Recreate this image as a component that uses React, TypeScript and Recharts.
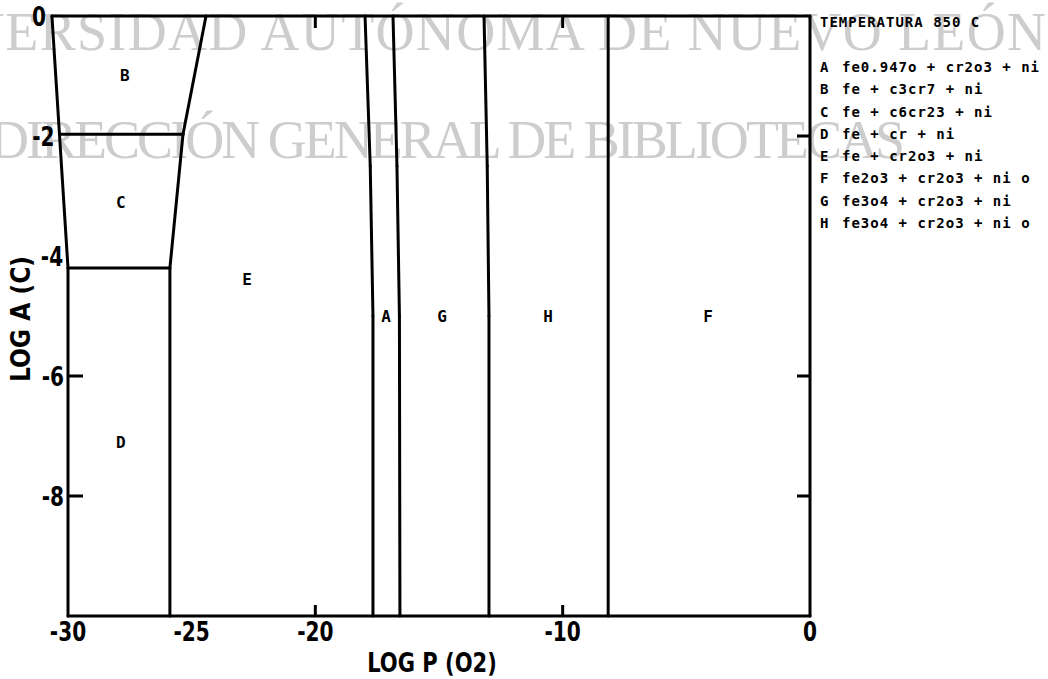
import React from "react";
import { ComposedChart, XAxis, YAxis, ReferenceLine, Scatter, Legend } from "recharts";

// axis ticks
const xTicks = [-30, -25, -20, -10, 0];
const yTicks = [0, -2, -4, -6, -8];
const markedX = [-20, -10];
const markedLeftY = [-6, -8];
const markedRightY = [-2, -6, -8];

// phase boundaries, [log P(O2), log a(C)]
type Pt = [number, number];
const frameLine: Pt[] = [[-30.65, 0], [0, 0], [0, -10], [-30, -10], [-30, -4.2], [-30.65, 0]];
const bcLine: Pt[] = [[-30.34, -1.97], [-25.35, -1.97]];
const cdLine: Pt[] = [[-30, -4.2], [-25.88, -4.2]];
const beLine: Pt[] = [[-24.42, 0], [-25.35, -1.97], [-25.88, -4.2], [-25.88, -10]];
const eaLine: Pt[] = [[-17.99, 0], [-17.78, -2.5], [-17.67, -5], [-17.67, -10]];
const agLine: Pt[] = [[-16.86, 0], [-16.7, -2.5], [-16.6, -5], [-16.58, -10]];
const ghLine: Pt[] = [[-13.18, 0], [-13.05, -2.5], [-12.98, -5], [-12.98, -10]];
const hfLine: Pt[] = [[-8.16, 0], [-8.16, -10]];
const boundaries = [frameLine, bcLine, cdLine, beLine, eaLine, agLine, ghLine, hfLine];

// region labels
const regionNames = ["B", "C", "D", "E", "A", "G", "H", "F"];
const regionX = [-27.7, -27.86, -27.86, -22.76, -17.14, -14.88, -10.59, -4.12];
const regionY = [-0.98, -3.1, -7.1, -4.38, -5, -5, -5, -5];

// legend
const legendTitle = "TEMPERATURA 850 C";
const phaseKeys = ["A", "B", "C", "D", "E", "F", "G", "H"];
const phaseNames = [
  "fe0.947o + cr2o3 + ni",
  "fe + c3cr7 + ni",
  "fe + c6cr23 + ni",
  "fe + cr + ni",
  "fe + cr2o3 + ni",
  "fe2o3 + cr2o3 + ni o",
  "fe3o4 + cr2o3 + ni",
  "fe3o4 + cr2o3 + ni o",
];

const segments = boundaries.flatMap((pts) =>
  pts.slice(1).map((p, i) => [pts[i], p] as [Pt, Pt])
);
const regionData = regionNames.map((name, i) => ({ x: regionX[i], y: regionY[i], name }));

const narrow = "'DejaVu Sans Condensed', 'DejaVu Sans', sans-serif";
const mono = "'DejaVu Sans Mono', monospace";
const tickFont = { fontFamily: narrow, fontWeight: 700, fontSize: 26, fill: "#000" };

// squeezed text, the plotter font is tall and narrow
const Narrow = ({ x, y, anchor, sx = 0.86, rotate = 0, children }: any) => (
  <text
    transform={`translate(${x} ${y}) rotate(${rotate}) scale(${sx} 1)`}
    textAnchor={anchor}
    style={tickFont}
  >
    {children}
  </text>
);

const BottomTick = (p: any) => {
  const v = p.payload.value;
  return (
    <g>
      {markedX.includes(v) && (
        <line x1={p.x} x2={p.x} y1={p.y} y2={p.y - 11} stroke="#000" strokeWidth={3} />
      )}
      <Narrow x={p.x} y={p.y + 25} anchor="middle">{v}</Narrow>
    </g>
  );
};

const TopTick = (p: any) => (
  <line x1={p.x} x2={p.x} y1={p.y} y2={p.y + 12} stroke="#000" strokeWidth={3} />
);

const LeftTick = (p: any) => {
  const v = p.payload.value;
  // labels above -4.2 follow the slanted left edge of the frame
  const slant = v > -4.2 ? ((v + 4.2) / 4.2) * 18 : 0;
  return (
    <g>
      {markedLeftY.includes(v) && (
        <line x1={p.x} x2={p.x + 15} y1={p.y} y2={p.y} stroke="#000" strokeWidth={3} />
      )}
      <Narrow x={p.x - 4 - slant} y={p.y + 10} anchor="end">{v}</Narrow>
    </g>
  );
};

const RightTick = (p: any) =>
  markedRightY.includes(p.payload.value) ? (
    <line x1={p.x} x2={p.x - 13} y1={p.y} y2={p.y} stroke="#000" strokeWidth={3} />
  ) : (
    <g />
  );

const renderLegend = () => (
  <div
    style={{
      fontFamily: mono,
      fontWeight: 700,
      fontSize: 14,
      letterSpacing: 1,
      lineHeight: "22.3px",
      color: "#000",
      textAlign: "left",
      whiteSpace: "pre",
    }}
  >
    <div>{legendTitle}</div>
    <div style={{ marginTop: 22.7 }}>
      {phaseKeys.map((k, i) => (
        <div key={k} style={{ display: "flex" }}>
          <span style={{ width: 22 }}>{k}</span>
          <span>{phaseNames[i]}</span>
        </div>
      ))}
    </div>
  </div>
);

export default function App() {
  return (
    <div style={{ position: "absolute", left: 0, top: 0, width: 1048, height: 679, background: "#fff" }}>
      <svg width={1048} height={679} style={{ position: "absolute", left: 0, top: 0 }}>
        <text
          x={-135}
          y={50}
          textLength={1181}
          lengthAdjust="spacing"
          style={{ fontFamily: "'Liberation Serif', serif", fontSize: 54, fill: "#cdcdcd" }}
        >
          UNIVERSIDAD AUTÓNOMA DE NUEVO LEÓN
        </text>
        <text
          x={-10}
          y={158}
          textLength={915}
          lengthAdjust="spacing"
          style={{ fontFamily: "'Liberation Serif', serif", fontSize: 54, fill: "#cdcdcd" }}
        >
          DIRECCIÓN GENERAL DE BIBLIOTECAS
        </text>
      </svg>
      <div style={{ position: "absolute", left: 0, top: 0 }}>
        <ComposedChart width={1048} height={679} margin={{ top: 15, right: 237, bottom: 0, left: 0 }}>
          <XAxis
            dataKey="x"
            type="number"
            domain={[-30, 0]}
            allowDataOverflow
            ticks={xTicks}
            interval={0}
            height={63}
            axisLine={false}
            tickLine={false}
            tickSize={0}
            tickMargin={0}
            tick={BottomTick}
            label={({ viewBox }: any) => (
              <Narrow x={viewBox.x + viewBox.width / 2 - 7} y={viewBox.y + 56} anchor="middle" sx={0.9}>
                LOG P (O2)
              </Narrow>
            )}
          />
          <XAxis
            xAxisId="top"
            orientation="top"
            dataKey="x"
            type="number"
            domain={[-30, 0]}
            allowDataOverflow
            ticks={markedX}
            interval={0}
            height={1}
            axisLine={false}
            tickLine={false}
            tickSize={0}
            tickMargin={0}
            tick={TopTick}
          />
          <YAxis
            type="number"
            domain={[-10, 0]}
            allowDataOverflow
            ticks={yTicks}
            interval={0}
            width={68}
            axisLine={false}
            tickLine={false}
            tickSize={0}
            tickMargin={0}
            tick={LeftTick}
            label={({ viewBox }: any) => (
              <Narrow x={30} y={viewBox.y + viewBox.height / 2 + 3} anchor="middle" rotate={-90} sx={1}>
                LOG A (C)
              </Narrow>
            )}
          />
          <YAxis
            yAxisId="right"
            orientation="right"
            type="number"
            domain={[-10, 0]}
            allowDataOverflow
            ticks={markedRightY}
            interval={0}
            width={1}
            axisLine={false}
            tickLine={false}
            tickSize={0}
            tickMargin={0}
            tick={RightTick}
          />
          {segments.map(([a, b], i) => (
            <ReferenceLine
              key={i}
              segment={[{ x: a[0], y: a[1] }, { x: b[0], y: b[1] }]}
              ifOverflow="visible"
              stroke="#000"
              strokeWidth={3}
              strokeLinecap="round"
            />
          ))}
          <Scatter
            data={regionData}
            dataKey="y"
            isAnimationActive={false}
            shape={(p: any) => (
              <text
                x={p.cx}
                y={p.cy + 6}
                textAnchor="middle"
                style={{ fontFamily: mono, fontWeight: 700, fontSize: 16, fill: "#000" }}
              >
                {p.payload.name}
              </text>
            )}
          />
          <Legend
            layout="horizontal"
            verticalAlign="middle"
            align="center"
            content={renderLegend}
            wrapperStyle={{ position: "absolute", left: 820, top: 11, width: 228 }}
          />
        </ComposedChart>
      </div>
    </div>
  );
}
